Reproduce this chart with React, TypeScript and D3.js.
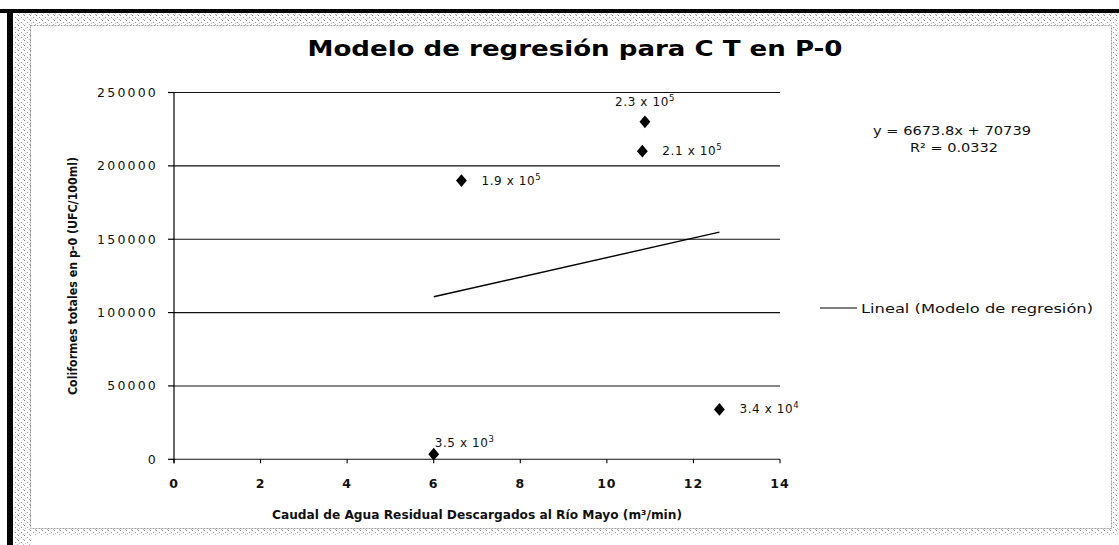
import React from "react";
import * as d3 from "d3";

const xValues = [6, 6.64, 10.88, 10.82, 12.6];
const yValues = [3500, 190000, 230000, 210000, 34000];
const labelMantissa = ["3.5", "1.9", "2.3", "2.1", "3.4"];
const labelExponent = ["3", "5", "5", "5", "4"];
const labelPlacement = ["topright", "right", "top", "right", "right"];
const xTicks = [0, 2, 4, 6, 8, 10, 12, 14];
const yTicks = [0, 50000, 100000, 150000, 200000, 250000];
const trendSlope = 6673.8;
const trendIntercept = 70739;
const trendText = "y = 6673.8x + 70739";
const r2Text = "R² = 0.0332";
const titleText = "Modelo de regresión para C T en P-0";
const xTitle = "Caudal de Agua Residual Descargados al Río Mayo (m³/min)";
const yTitle = "Coliformes totales en p-0 (UFC/100ml)";
const legendText = "Lineal (Modelo de regresión)";

const W = 1119;
const H = 545;
const plot = { left: 174, right: 780, top: 92.5, bottom: 459.3 };
const FONT = "'DejaVu Sans', sans-serif";

export default function App() {
  const x = d3.scaleLinear().domain([0, 14]).range([plot.left, plot.right]);
  const y = d3.scaleLinear().domain([0, 250000]).range([plot.bottom, plot.top]);
  const xMin = d3.min(xValues) as number;
  const xMax = d3.max(xValues) as number;
  const trend = d3.line<number>()
    .x((d) => x(d))
    .y((d) => y(trendSlope * d + trendIntercept))([xMin, xMax]);
  const diamond = d3.symbol(d3.symbolDiamond, 52)();

  return (
    <svg width={W} height={H} style={{ position: "absolute", left: 0, top: 0, background: "#fff" }}>
      <defs>
        <pattern id="stip" width="6" height="5" patternUnits="userSpaceOnUse">
          <rect width="6" height="5" fill="#fff" />
          <rect x="0" y="0" width="1" height="1" fill="#888" />
          <rect x="3" y="2" width="1" height="1" fill="#999" />
          <rect x="5" y="4" width="1" height="1" fill="#bbb" />
          <rect x="1" y="3" width="1" height="1" fill="#ccc" />
        </pattern>
      </defs>
      <rect width={W} height={H} fill="#fff" />
      {/* stippled frame */}
      <rect x={14} y={13} width={1104} height={12} fill="url(#stip)" />
      <rect x={14} y={13} width={17} height={532} fill="url(#stip)" />
      <rect x={1111} y={13} width={7} height={522} fill="url(#stip)" />
      <rect x={14} y={529} width={1104} height={6} fill="url(#stip)" />
      <rect x={30.5} y={25.5} width={1081} height={503} fill="none" stroke="#888" strokeWidth={0.8} strokeDasharray="2 1" />
      {/* black scan borders */}
      <rect x={0} y={9} width={W} height={4} fill="#000" />
      <rect x={7} y={9} width={6} height={H - 9} fill="#000" />

      {/* title */}
      <text x={575} y={56} textAnchor="middle" fontFamily={FONT} fontWeight="bold" fontSize={21}
        textLength={535} lengthAdjust="spacingAndGlyphs">{titleText}</text>

      {/* gridlines */}
      {yTicks.map((t) => (
        <line key={"g" + t} x1={plot.left} x2={plot.right} y1={y(t)} y2={y(t)} stroke="#111" strokeWidth={1.1} />
      ))}
      {/* y axis */}
      <line x1={plot.left} x2={plot.left} y1={plot.top} y2={plot.bottom + 4} stroke="#000" strokeWidth={1.2} />
      {yTicks.map((t) => (
        <g key={"yt" + t}>
          <line x1={plot.left - 6} x2={plot.left} y1={y(t)} y2={y(t)} stroke="#000" strokeWidth={1.2} />
          <text x={158} y={y(t)} dy="0.36em" textAnchor="end" fontFamily={FONT} fontSize={12.5}
            letterSpacing={2.2} fill="#111">{t}</text>
        </g>
      ))}
      {/* x ticks */}
      {xTicks.map((t) => (
        <g key={"xt" + t}>
          <line x1={x(t)} x2={x(t)} y1={plot.bottom} y2={plot.bottom + 4} stroke="#000" strokeWidth={1.1} />
          <text x={x(t)} y={483} dy="0.36em" textAnchor="middle" fontFamily={FONT} fontSize={12.5}
            fontWeight="bold" letterSpacing={1} fill="#111">{t}</text>
        </g>
      ))}

      {/* axis titles */}
      <text x={477} y={515} dy="0.36em" textAnchor="middle" fontFamily={FONT} fontWeight="bold" fontSize={12}
        textLength={410} lengthAdjust="spacingAndGlyphs" fill="#111">{xTitle}</text>
      <text transform={`translate(72,276) rotate(-90)`} dy="0.36em" textAnchor="middle" fontFamily={FONT}
        fontWeight="bold" fontSize={12.5} textLength={238} lengthAdjust="spacingAndGlyphs" fill="#111">{yTitle}</text>

      {/* trendline */}
      <path d={trend ?? ""} fill="none" stroke="#000" strokeWidth={1.4} />

      {/* points */}
      {xValues.map((xv, i) => {
        const px = x(xv);
        const py = y(yValues[i]);
        const place = labelPlacement[i];
        let tx = px + 20;
        let ty = py + 4;
        let anchor = "start";
        if (place === "top") { tx = px; ty = py - 16; anchor = "middle"; }
        if (place === "topright") { tx = px + 1; ty = py - 7; anchor = "start"; }
        return (
          <g key={"p" + i}>
            <path d={diamond ?? ""} transform={`translate(${px},${py}) scale(1.4,0.95)`} fill="#000" />
            <text x={tx} y={ty} textAnchor={anchor} fontFamily={FONT} fontSize={12} letterSpacing={0.6} fill="#111">
              {labelMantissa[i] + " x 10"}
              <tspan dy={-5} fontSize={8.5}>{labelExponent[i]}</tspan>
            </text>
          </g>
        );
      })}

      {/* equation */}
      <text x={952} y={131} dy="0.36em" textAnchor="middle" fontFamily={FONT} fontSize={12} textLength={158}
        lengthAdjust="spacingAndGlyphs" fill="#111">{trendText}</text>
      <text x={954} y={148} dy="0.36em" textAnchor="middle" fontFamily={FONT} fontSize={12} textLength={88}
        lengthAdjust="spacingAndGlyphs" fill="#111">{r2Text}</text>

      {/* legend */}
      <line x1={820} x2={857} y1={308} y2={308} stroke="#000" strokeWidth={1.1} />
      <text x={861} y={308} dy="0.36em" fontFamily={FONT} fontSize={12.5} textLength={232}
        lengthAdjust="spacingAndGlyphs" fill="#111">{legendText}</text>
    </svg>
  );
}
